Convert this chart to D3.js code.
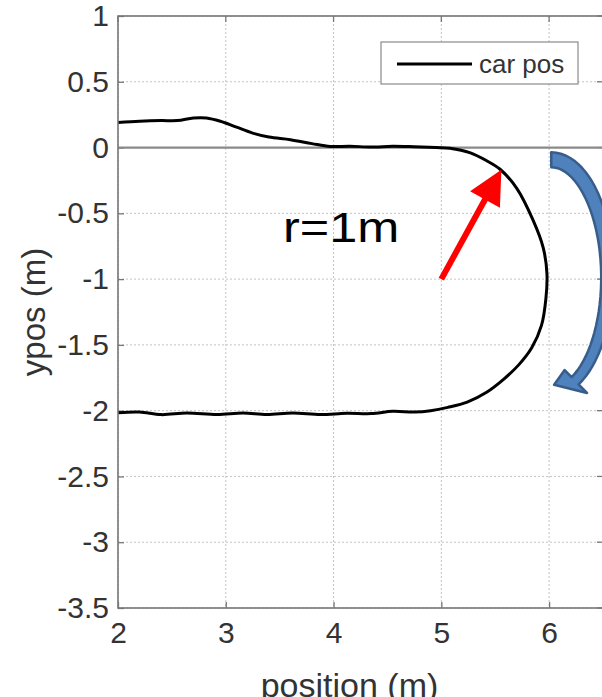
<!DOCTYPE html>
<html><head><meta charset="utf-8">
<script src="https://cdn.jsdelivr.net/npm/d3@7"></script>
<style>html,body{margin:0;padding:0;background:#fff;overflow:hidden}</style>
</head><body>
<svg id="c" width="602" height="697"></svg>
<script>
// ---- data ----
const xTicks = [2, 3, 4, 5, 6];
const yTicks = [1, 0.5, 0, -0.5, -1, -1.5, -2, -2.5, -3, -3.5];
const xDomain = [2, 6.5];
const yDomain = [-3.5, 1];
const seriesName = "car pos";
const carX = [2.00, 2.20, 2.40, 2.55, 2.70, 2.82, 2.95, 3.10, 3.25, 3.40, 3.60, 3.80, 3.97, 4.15, 4.35, 4.55, 4.75, 4.95, 5.08, 5.27, 5.42, 5.545, 5.70, 5.85, 5.945, 5.98, 5.97, 5.93, 5.84, 5.72, 5.58, 5.42, 5.24, 5.06, 4.90, 4.75, 4.55, 4.35, 4.12, 3.88, 3.62, 3.38, 3.16, 2.92, 2.64, 2.40, 2.20, 2.00];
const carY = [0.19, 0.20, 0.205, 0.205, 0.225, 0.225, 0.20, 0.155, 0.11, 0.08, 0.06, 0.03, 0.008, 0.01, 0.004, 0.01, 0.006, 0.0, -0.005, -0.04, -0.10, -0.165, -0.31, -0.55, -0.76, -0.96, -1.15, -1.35, -1.52, -1.65, -1.76, -1.86, -1.935, -1.975, -2.0, -2.01, -2.005, -2.022, -2.02, -2.03, -2.018, -2.03, -2.018, -2.03, -2.018, -2.03, -2.01, -2.015];
const refLineY = [0, 0];
const radiusLabel = "r=1m";
const radiusArrow = [[5, -1], [5.557, -0.168]];

// ---- layout ----
const svg = d3.select("#c");
const L = 118, R = 603, T = 16, B = 608;
const x = d3.scaleLinear().domain(xDomain).range([L, R]);
const y = d3.scaleLinear().domain(yDomain).range([B, T]);
const font = "'Liberation Sans', Arial, Helvetica, sans-serif";
const txt = "#333";
const axc = "#777";

svg.append("defs").append("clipPath").attr("id", "clip")
  .append("rect").attr("x", L).attr("y", T).attr("width", R - L).attr("height", B - T);

// grid
const grid = svg.append("g");
xTicks.forEach(v => grid.append("line").attr("x1", x(v)).attr("x2", x(v)).attr("y1", T).attr("y2", B)
  .attr("stroke", "#c4c4c4").attr("stroke-width", 1).attr("stroke-dasharray", "2,2"));
yTicks.forEach(v => grid.append("line").attr("y1", y(v)).attr("y2", y(v)).attr("x1", L).attr("x2", R)
  .attr("stroke", "#c4c4c4").attr("stroke-width", 1).attr("stroke-dasharray", "2,2"));

// axes via d3-axis
const ax = svg.append("g").attr("font-family", font);
const xAxis = d3.axisBottom(x).tickValues(xTicks).tickSize(-6).tickPadding(14).tickFormat(d3.format("d"));
const gx = ax.append("g").attr("transform", `translate(0,${B})`).call(xAxis);
const yAxis = d3.axisLeft(y).tickValues(yTicks).tickSize(-6).tickPadding(9).tickFormat(d => d3.format("")(d).replace("−", "-"));
const gy = ax.append("g").attr("transform", `translate(${L},0)`).call(yAxis);
[gx, gy].forEach(g => {
  g.select(".domain").remove();
  g.selectAll(".tick line").attr("stroke", axc).attr("stroke-width", 1.3);
  g.selectAll(".tick text").attr("fill", txt).attr("font-size", 30).attr("font-family", font);
});
gx.selectAll(".tick text").attr("dy", "0.71em");
// top/right ticks
xTicks.forEach(v => ax.append("line").attr("x1", x(v)).attr("x2", x(v)).attr("y1", T).attr("y2", T + 6).attr("stroke", axc).attr("stroke-width", 1.3));
yTicks.forEach(v => ax.append("line").attr("y1", y(v)).attr("y2", y(v)).attr("x1", R).attr("x2", R - 6).attr("stroke", axc).attr("stroke-width", 1.3));

// reference zero line
svg.append("line").attr("x1", x(xDomain[0])).attr("x2", x(xDomain[1])).attr("y1", y(refLineY[0])).attr("y2", y(refLineY[1]))
  .attr("stroke", "#8a8a8a").attr("stroke-width", 2.2);

// trajectory
const pts = carX.map((v, i) => [v, carY[i]]);
svg.append("path").attr("clip-path", "url(#clip)")
  .attr("d", d3.line().x(d => x(d[0])).y(d => y(d[1])).curve(d3.curveCatmullRom.alpha(0.5))(pts))
  .attr("fill", "none").attr("stroke", "#000").attr("stroke-width", 3).attr("stroke-linejoin", "round");

// box
svg.append("rect").attr("x", L).attr("y", T).attr("width", R - L).attr("height", B - T)
  .attr("fill", "none").attr("stroke", axc).attr("stroke-width", 1.6);

// axis labels
svg.append("text").attr("x", (L + R) / 2 - 11).attr("y", 697).attr("text-anchor", "middle")
  .attr("font-family", font).attr("font-size", 34).attr("fill", txt).text("position (m)");
svg.append("text").attr("transform", `translate(45,${(T + B) / 2}) rotate(-90)`).attr("text-anchor", "middle")
  .attr("font-family", font).attr("font-size", 33).attr("fill", txt).text("ypos (m)");

// legend
const lg = svg.append("g");
lg.append("rect").attr("x", 381).attr("y", 42).attr("width", 197).attr("height", 42)
  .attr("fill", "#fff").attr("stroke", "#8a8a8a").attr("stroke-width", 1.2);
lg.append("line").attr("x1", 397).attr("x2", 472).attr("y1", 64).attr("y2", 64).attr("stroke", "#000").attr("stroke-width", 2.8);
lg.append("text").attr("x", 479).attr("y", 73).attr("font-family", font).attr("font-size", 26).attr("fill", txt).text(seriesName);

// r=1m annotation
svg.append("text").attr("transform", "translate(283,242) scale(1.2,1)").attr("font-family", font).attr("font-size", 42)
  .attr("fill", "#000").text(radiusLabel);

// red arrow
const [a0, a1] = radiusArrow.map(p => [x(p[0]), y(p[1])]);
const dx = a1[0] - a0[0], dy = a1[1] - a0[1], len = Math.hypot(dx, dy);
const ux = dx / len, uy = dy / len, nx = -uy, ny = ux;
const hl = 34, hw = 17;
const base = [a1[0] - ux * hl, a1[1] - uy * hl];
svg.append("line").attr("x1", a0[0]).attr("y1", a0[1]).attr("x2", base[0] + ux * 2).attr("y2", base[1] + uy * 2)
  .attr("stroke", "#ff0000").attr("stroke-width", 6);
svg.append("path").attr("d", `M${a1[0]},${a1[1]}L${base[0] + nx * hw},${base[1] + ny * hw}L${base[0] - nx * hw},${base[1] - ny * hw}Z`)
  .attr("fill", "#ff0000");

// blue curved arrow (half ellipse, clockwise)
const ec = [x(6.02), y(-0.975)];
const erx = 56, ery = 116;
const th0 = -Math.PI / 2, th1 = Math.PI * 0.36;
const P = t => [ec[0] + erx * Math.cos(t), ec[1] + ery * Math.sin(t)];
const N = 40, outer = [], inner = [];
for (let i = 0; i <= N; i++) {
  const t = th0 + (th1 - th0) * i / N;
  const w = 7.5 - 2.5 * i / N;
  const p = P(t);
  let nxx = Math.cos(t) / erx, nyy = Math.sin(t) / ery; const nl = Math.hypot(nxx, nyy); nxx /= nl; nyy /= nl;
  outer.push([p[0] + nxx * w, p[1] + nyy * w]);
  inner.push([p[0] - nxx * w, p[1] - nyy * w]);
}
const pe = P(th1);
let en = [Math.cos(th1) / erx, Math.sin(th1) / ery]; { const l = Math.hypot(en[0], en[1]); en = [en[0] / l, en[1] / l]; }
const tip = [pe[0] - 21, pe[1] + 4];
const w1 = [pe[0] + en[0] * 17, pe[1] + en[1] * 17], w2 = [pe[0] - en[0] * 15, pe[1] - en[1] * 15];
const shape = outer.concat([w1, tip, w2]).concat(inner.slice().reverse());
svg.append("path").attr("d", "M" + shape.map(p => p.join(",")).join("L") + "Z")
  .attr("fill", "#4f81bd").attr("stroke", "#385d8a").attr("stroke-width", 2.5).attr("stroke-linejoin", "round");
</script>
</body></html>
